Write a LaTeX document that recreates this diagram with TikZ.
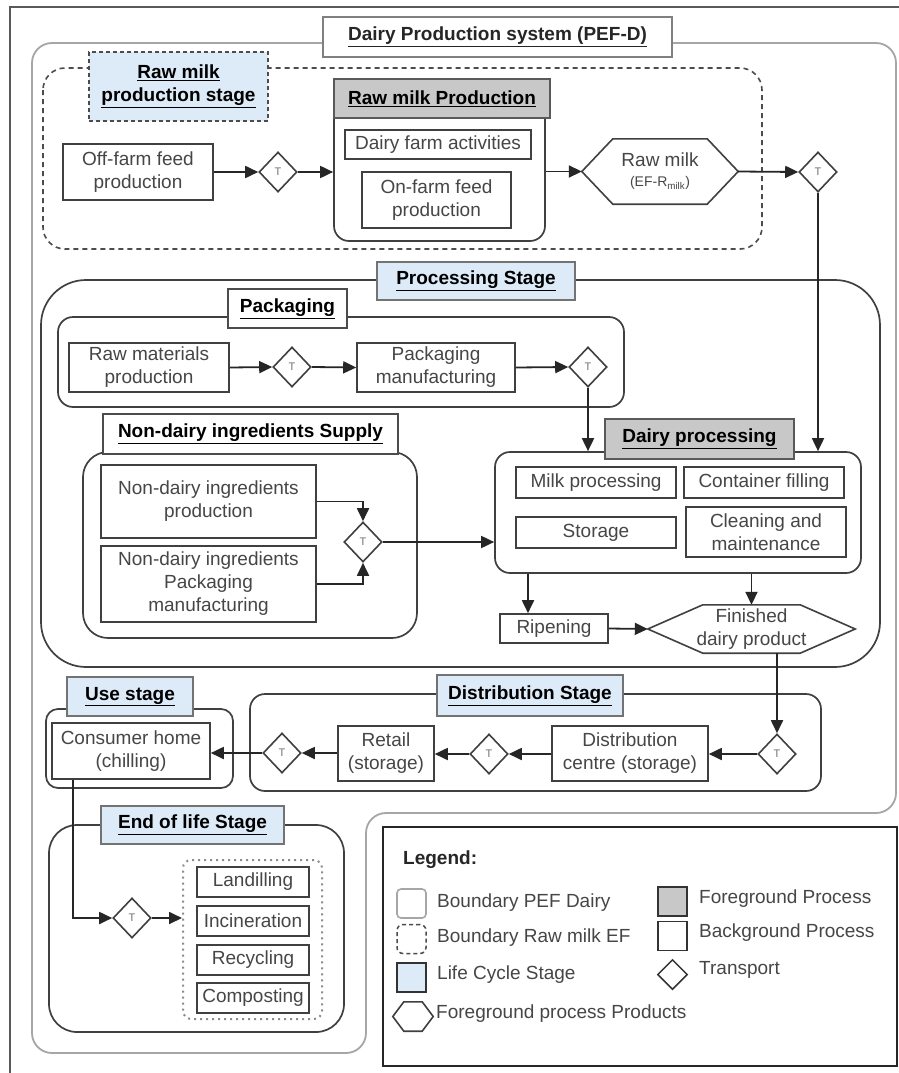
\documentclass[tikz,border=0pt]{standalone}
\usepackage{fontspec}
\setmainfont{Liberation Sans}
\usetikzlibrary{arrows.meta,shapes.geometric,calc}
\definecolor{lblue}{RGB}{221,235,248}
\definecolor{fgray}{RGB}{200,200,200}
\definecolor{txt}{RGB}{70,70,70}
\begin{document}
\begin{tikzpicture}[x=1pt,y=-1pt,
  base/.style={font=\fontsize{19}{23}\selectfont, align=center, inner sep=0pt},
  box/.style={base, draw=black!75, line width=1.6pt, fill=white, text=txt},
  stagelbl/.style={base, draw=black!55, line width=1.3pt, fill=lblue, text=black, font=\fontsize{19}{23}\selectfont\bfseries},
  sublbl/.style={base, draw=black!70, line width=1.5pt, fill=white, text=black, font=\fontsize{19}{23}\selectfont\bfseries},
  fglbl/.style={base, draw=black!65, line width=1.5pt, fill=fgray, text=black, font=\fontsize{19}{23}\selectfont\bfseries},
  cont/.style={draw=black!75, line width=1.7pt, fill=white, inner sep=0pt},
  tdiam/.style={diamond, draw=black!75, line width=1.6pt, fill=white, minimum width=38pt, minimum height=40pt, inner sep=0pt, font=\fontsize{11}{12}\selectfont, text=black!55},
  hexfr/.style={base, text=txt},
  hexln/.style={draw=black!75, line width=1.6pt, fill=white},
  arr/.style={-{Triangle[length=13pt,width=12pt]}, line width=1.8pt, draw=black!85},
  legtxt/.style={font=\fontsize{19}{23}\selectfont, text=txt, anchor=west, inner sep=0pt}
]
\useasboundingbox (0,0) rectangle (899,1073);
\fill[white] (0,0) rectangle (899,1073);
% outer frame
\draw[line width=1.6pt, black!65] (10,1090) -- (10,7) -- (910,7);
% PEF boundary
\draw[line width=1.8pt, black!35, rounded corners=20pt] (32,500) -- (32,43) -- (896,43) -- (896,813) -- (366,813) -- (366,1053) -- (32,1053) -- cycle;
\node[base, draw=black!50, line width=1.3pt, fill=white, text=black!85, font=\fontsize{19}{23}\selectfont\bfseries, minimum width=349pt, minimum height=40pt] (title) at (497.5,37) {\underline{Dairy Production system (PEF-D)}};

% ---------- Raw milk production stage ----------
\draw[line width=1.6pt, black!70, dash pattern=on 5pt off 4pt, rounded corners=22pt] (43,68) rectangle (762,249);
\node[stagelbl, draw=black!70, dash pattern=on 4pt off 3pt, minimum width=179pt, minimum height=69pt] (rmstage) at (178.5,86.5) {\underline{Raw milk}\\\underline{production stage}};

\node[box, minimum width=150pt, minimum height=56pt] (offfarm) at (138,172) {Off-farm feed\\production};
\node[tdiam] (d1) at (278,172) {T};
\node[cont, rounded corners=15pt, minimum width=211pt, minimum height=146pt] (rmp) at (439.5,168) {};
\node[fglbl, minimum width=216pt, minimum height=39pt] (rmph) at (442,98.5) {\underline{Raw milk Production}};
\node[box, minimum width=186pt, minimum height=29pt] (farm) at (438,144.5) {Dairy farm activities};
\node[box, minimum width=149pt, minimum height=56pt] (onfarm) at (436.5,200) {On-farm feed\\production};
\node[hexfr, minimum width=156pt, minimum height=65pt] (rawmilk) at (660,171.5) {};
\draw[hexln] (rawmilk.west) -- ($(rawmilk.north west)+(31,0)$) -- ($(rawmilk.north east)+(-31,0)$) -- (rawmilk.east) -- ($(rawmilk.south east)+(-31,0)$) -- ($(rawmilk.south west)+(31,0)$) -- cycle;
\node[hexfr] at (rawmilk) {Raw milk\\[-3pt]{\fontsize{14}{16}\selectfont (EF-R\textsubscript{milk})}};
\node[tdiam] (d2) at (818,172) {T};

\draw[arr] (offfarm.east) -- (d1.west);
\draw[arr] (d1.east) -- (d1.east -| rmp.west);
\draw[arr] (rawmilk.west -| rmp.east) -- (rawmilk.west);
\draw[arr] (rawmilk.east) -- (d2.west);

% ---------- Processing stage ----------
\node[cont, rounded corners=45pt, minimum width=839pt, minimum height=387pt] (proc) at (460.5,473.5) {};
\node[stagelbl, minimum width=198pt, minimum height=38pt] (proclbl) at (476,281) {\underline{Processing Stage}};

% Packaging
\node[cont, rounded corners=15pt, minimum width=566pt, minimum height=90pt] (pack) at (341,362) {};
\node[sublbl, minimum width=119pt, minimum height=39pt] (packlbl) at (287.5,308.5) {\underline{Packaging}};
\node[box, minimum width=160pt, minimum height=49pt] (rawmat) at (149,367.5) {Raw materials\\production};
\node[tdiam] (d3) at (292,367) {T};
\node[box, minimum width=158pt, minimum height=49pt] (packman) at (436,367.5) {Packaging\\manufacturing};
\node[tdiam] (d4) at (588,367) {T};
\draw[arr] (rawmat.east) -- (d3.west);
\draw[arr] (d3.east) -- (packman.west);
\draw[arr] (packman.east) -- (d4.west);

% Non-dairy
\node[cont, rounded corners=25pt, minimum width=334pt, minimum height=186pt] (nd) at (250,545) {};
\node[sublbl, minimum width=295pt, minimum height=40pt] (ndlbl) at (250.5,434) {\underline{Non-dairy ingredients Supply}};
\node[box, minimum width=215pt, minimum height=73pt] (nd1) at (208.5,501.5) {Non-dairy ingredients\\production};
\node[box, minimum width=215pt, minimum height=76pt] (nd2) at (208.5,584) {Non-dairy ingredients\\Packaging\\manufacturing};
\node[tdiam] (d5) at (363,542) {T};
\draw[arr] (nd1.east) -| (d5.north);
\draw[arr] (nd2.east) -| (d5.south);

% Dairy processing
\node[cont, rounded corners=15pt, minimum width=366pt, minimum height=121pt] (dp) at (678,512.5) {};
\node[fglbl, minimum width=189pt, minimum height=40pt] (dph) at (699.5,439) {\underline{Dairy processing}};
\node[box, minimum width=160pt, minimum height=31pt] (milkp) at (596,482.5) {Milk processing};
\node[box, minimum width=160pt, minimum height=31pt] (contf) at (764,482.5) {Container filling};
\node[box, minimum width=160pt, minimum height=31pt] (stor) at (596,532.5) {Storage};
\node[box, minimum width=160pt, minimum height=50pt] (clean) at (766,532) {Cleaning and\\maintenance};

\draw[arr] (d5.east) -- (d5.east -| dp.west);
\draw[arr] (d4.south) -- (d4.south |- dp.north);
\draw[arr] (d2.south) -- (d2.south |- dp.north);

\node[box, minimum width=108pt, minimum height=29pt] (ripen) at (554,628.5) {Ripening};
\node[hexfr, minimum width=207pt, minimum height=48pt] (fin) at (751.5,629) {};
\draw[hexln] (fin.west) -- ($(fin.north west)+(55,0)$) -- ($(fin.north east)+(-55,0)$) -- (fin.east) -- ($(fin.south east)+(-55,0)$) -- ($(fin.south west)+(55,0)$) -- cycle;
\node[hexfr] at (fin) {Finished\\dairy product};
\draw[arr] ([xshift=-26pt]ripen.north |- dp.south) -- ([xshift=-26pt]ripen.north);
\draw[arr] (fin.north |- dp.south) -- (fin.north);
\draw[arr] (ripen.east) -- (fin.west);

% ---------- Distribution stage ----------
\node[cont, rounded corners=15pt, minimum width=571pt, minimum height=97pt] (dist) at (535.5,742.5) {};
\node[stagelbl, minimum width=186pt, minimum height=41pt] (distlbl) at (530,695.5) {\underline{Distribution Stage}};
\node[tdiam] (d6) at (777,754) {T};
\node[box, minimum width=156pt, minimum height=55pt] (dc) at (630,753.5) {Distribution\\centre (storage)};
\node[tdiam] (d7) at (489,754) {T};
\node[box, minimum width=96pt, minimum height=55pt] (retail) at (386,753.5) {Retail\\(storage)};
\node[tdiam] (d8) at (282,753) {T};
\draw[arr] (fin.south -| d6.north) -- (d6.north);
\draw[arr] (d6.west) -- (d6.west -| dc.east);
\draw[arr] (d7.east -| dc.west) -- (d7.east);
\draw[arr] (d7.west) -- (d7.west -| retail.east);
\draw[arr] (d8.east -| retail.west) -- (d8.east);

% ---------- Use stage ----------
\node[cont, rounded corners=12pt, minimum width=187pt, minimum height=79pt] (use) at (139.5,748.5) {};
\node[stagelbl, minimum width=126pt, minimum height=39pt] (uselbl) at (130,696.5) {\underline{Use stage}};
\node[box, minimum width=158pt, minimum height=56pt] (cons) at (131,751) {Consumer home\\(chilling)};
\draw[arr] (d8.west) -- (d8.west -| cons.east);

% ---------- End of life ----------
\node[cont, rounded corners=28pt, minimum width=295pt, minimum height=207pt] (eol) at (196.5,928.5) {};
\node[stagelbl, minimum width=183pt, minimum height=38pt] (eollbl) at (192.5,825) {\underline{End of life Stage}};
\node[draw=black!45, line width=2pt, dash pattern=on 2pt off 4pt, rounded corners=8pt, minimum width=139pt, minimum height=159pt, inner sep=0pt] (grp) at (252.5,939.5) {};
\node[box, minimum width=112pt, minimum height=30pt] (land) at (253,882) {Landilling};
\node[box, minimum width=112pt, minimum height=30pt] (inc) at (253,921) {Incineration};
\node[box, minimum width=112pt, minimum height=30pt] (rec) at (253,960) {Recycling};
\node[box, minimum width=112pt, minimum height=30pt] (comp) at (253,998) {Composting};
\node[tdiam] (d9) at (132,918) {T};
\draw[arr] ([xshift=-58pt]cons.south) |- (d9.west);
\draw[arr] (d9.east) -- (d9.east -| grp.west);

% ---------- Legend ----------
\node[draw=black!85, line width=2pt, minimum width=514pt, minimum height=239pt, inner sep=0pt] (legend) at (640,946.5) {};
\node[legtxt, text=black!85, font=\fontsize{19}{23}\selectfont\bfseries] (legt) at (403,860) {Legend:};
\node[draw=black!35, line width=1.6pt, rounded corners=4pt, minimum width=29pt, minimum height=29pt, inner sep=0pt] (lg1) at (411.5,903.5) {};
\node[legtxt] at (437,903) {Boundary PEF Dairy};
\node[draw=black!70, line width=1.5pt, dash pattern=on 4pt off 3pt, rounded corners=6pt, minimum width=29pt, minimum height=29pt, inner sep=0pt] (lg2) at (411.5,939) {};
\node[legtxt] at (437,938) {Boundary Raw milk EF};
\node[draw=black!80, line width=1.6pt, fill=lblue, minimum width=29pt, minimum height=29pt, inner sep=0pt] (lg3) at (411.5,977.5) {};
\node[legtxt] at (437,975) {Life Cycle Stage};
\node[minimum width=40pt, minimum height=29pt, inner sep=0pt] (lg4) at (413,1016.5) {};
\draw[hexln] (lg4.west) -- ($(lg4.north west)+(11,0)$) -- ($(lg4.north east)+(-11,0)$) -- (lg4.east) -- ($(lg4.south east)+(-11,0)$) -- ($(lg4.south west)+(11,0)$) -- cycle;
\node[legtxt] at (436,1014) {Foreground process Products};
\node[draw=black!80, line width=1.6pt, fill=fgray, minimum width=29pt, minimum height=29pt, inner sep=0pt] (lg5) at (672.5,901.5) {};
\node[legtxt] at (699,899) {Foreground Process};
\node[draw=black!80, line width=1.6pt, fill=white, minimum width=29pt, minimum height=29pt, inner sep=0pt] (lg6) at (672.5,936) {};
\node[legtxt] at (699,933) {Background Process};
\node[diamond, draw=black!80, line width=1.5pt, minimum width=30pt, minimum height=30pt, inner sep=0pt] (lg7) at (672.5,974.5) {};
\node[legtxt] at (699,970) {Transport};
\end{tikzpicture}
\end{document}
